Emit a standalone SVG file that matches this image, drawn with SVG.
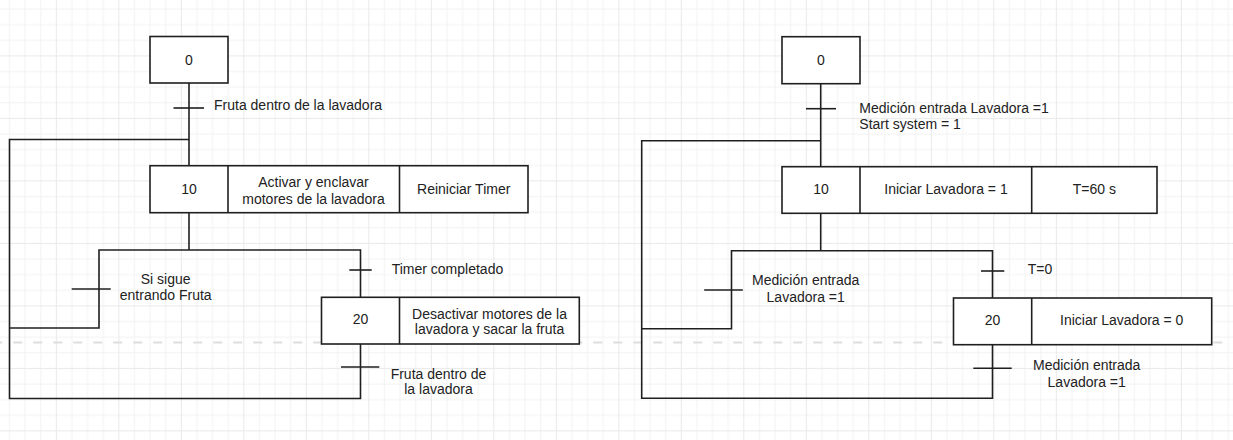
<svg xmlns="http://www.w3.org/2000/svg" width="1233" height="440" viewBox="0 0 1233 440">
  <defs>
    <pattern id="grid" patternUnits="userSpaceOnUse" x="-6.7" y="-7.1" width="62.5" height="62.5">
      <rect x="0" y="0" width="62.5" height="62.5" fill="#ffffff"/>
      <rect x="15.625" y="0" width="1" height="62.5" fill="#f3f3f3"/>
      <rect x="31.25" y="0" width="1" height="62.5" fill="#f3f3f3"/>
      <rect x="46.875" y="0" width="1" height="62.5" fill="#f3f3f3"/>
      <rect x="0" y="15.625" width="62.5" height="1" fill="#f3f3f3"/>
      <rect x="0" y="31.25" width="62.5" height="1" fill="#f3f3f3"/>
      <rect x="0" y="46.875" width="62.5" height="1" fill="#f3f3f3"/>
      <rect x="0" y="0" width="1" height="62.5" fill="#e9e9e9"/>
      <rect x="0" y="0" width="62.5" height="1" fill="#e9e9e9"/>
    </pattern>
    <style>
      .box { fill: #ffffff; stroke: #1f1f1f; stroke-width: 1.6; }
      .div { stroke: #1f1f1f; stroke-width: 1.6; fill: none; }
      .wire { fill: none; stroke: #1f1f1f; stroke-width: 1.6; }
      .bar { stroke: #1f1f1f; stroke-width: 1.6; }
      .t { font-family: "Liberation Sans", Arial, sans-serif; font-size: 14px; fill: #222222; }
      .c { text-anchor: middle; }
      .pb { stroke: #dedede; stroke-width: 2.2; stroke-dasharray: 9 11; stroke-dashoffset: 6.7; }
    </style>
  </defs>

  <rect x="0" y="0" width="1233" height="440" fill="url(#grid)"/>
  <line class="pb" x1="0" y1="342.5" x2="1233" y2="342.5"/>

  <g id="connectors">
    <!-- left chart -->
    <line class="wire" x1="189" y1="83" x2="189" y2="165.7"/>
    <line class="bar" x1="173.5" y1="108" x2="204" y2="108"/>
    <polyline class="wire" points="189,139.5 9.5,139.5 9.5,398.5 360.5,398.5 360.5,344"/>
    <line class="wire" x1="189" y1="212.7" x2="189" y2="250"/>
    <polyline class="wire" points="9.5,328 99,328 99,250 360.5,250 360.5,297.3"/>
    <line class="bar" x1="71.7" y1="289" x2="110.7" y2="289"/>
    <line class="bar" x1="349.3" y1="270" x2="371.7" y2="270"/>
    <line class="bar" x1="341" y1="367" x2="379.3" y2="367"/>
    <!-- right chart -->
    <line class="wire" x1="820.7" y1="83.7" x2="820.7" y2="166.7"/>
    <line class="bar" x1="806" y1="108.7" x2="836" y2="108.7"/>
    <polyline class="wire" points="820.7,140.7 641.7,140.7 641.7,398.3 992.5,398.3 992.5,344.7"/>
    <line class="wire" x1="820.7" y1="213.3" x2="820.7" y2="250.7"/>
    <polyline class="wire" points="641.7,328.7 731.5,328.7 731.5,250.7 992.5,250.7 992.5,298"/>
    <line class="bar" x1="704.2" y1="290" x2="742.8" y2="290"/>
    <line class="bar" x1="981" y1="271" x2="1004.3" y2="271"/>
    <line class="bar" x1="973.3" y1="368.3" x2="1011.7" y2="368.3"/>
  </g>

  <g id="transition-labels">
    <text class="t" x="214" y="109.5">Fruta dentro de la lavadora</text>
    <text class="t c" x="165.7" y="283.5">Si sigue</text>
    <text class="t c" x="165.7" y="300">entrando Fruta</text>
    <text class="t" x="391.7" y="274">Timer completado</text>
    <text class="t c" x="438.5" y="379.3">Fruta dentro de</text>
    <text class="t c" x="438.5" y="394">la lavadora</text>

    <text class="t" x="859.3" y="112.5">Medición entrada Lavadora =1</text>
    <text class="t" x="859.3" y="129">Start system = 1</text>
    <text class="t c" x="805.7" y="285">Medición entrada</text>
    <text class="t c" x="805.7" y="302">Lavadora =1</text>
    <text class="t" x="1027.7" y="274">T=0</text>
    <text class="t c" x="1086.7" y="369.5">Medición entrada</text>
    <text class="t c" x="1086.7" y="386.5">Lavadora =1</text>
  </g>

  <g id="L-step0">
    <rect class="box" x="150" y="36.5" width="78" height="46.5"/>
    <text class="t c" x="189" y="64.5">0</text>
  </g>

  <g id="L-step10">
    <rect class="box" x="150" y="165.7" width="378" height="47"/>
    <line class="div" x1="228" y1="165.7" x2="228" y2="212.7"/>
    <line class="div" x1="399.5" y1="165.7" x2="399.5" y2="212.7"/>
    <text class="t c" x="189" y="193.5">10</text>
    <text class="t c" x="313.5" y="187">Activar y enclavar</text>
    <text class="t c" x="313.5" y="203.5">motores de la lavadora</text>
    <text class="t c" x="463.7" y="193.5">Reiniciar Timer</text>
  </g>

  <g id="L-step20">
    <rect class="box" x="321.5" y="297.3" width="257.8" height="46.7"/>
    <line class="div" x1="399.5" y1="297.3" x2="399.5" y2="344"/>
    <text class="t c" x="360.5" y="323.5">20</text>
    <text class="t c" x="489.5" y="318.5">Desactivar motores de la</text>
    <text class="t c" x="489.5" y="334">lavadora y sacar la fruta</text>
  </g>

  <g id="R-step0">
    <rect class="box" x="782" y="36.7" width="78" height="47"/>
    <text class="t c" x="821" y="65">0</text>
  </g>

  <g id="R-step10">
    <rect class="box" x="782" y="166.7" width="375" height="46.6"/>
    <line class="div" x1="860" y1="166.7" x2="860" y2="213.3"/>
    <line class="div" x1="1031.7" y1="166.7" x2="1031.7" y2="213.3"/>
    <text class="t c" x="821" y="194">10</text>
    <text class="t c" x="946" y="194">Iniciar Lavadora = 1</text>
    <text class="t c" x="1094.4" y="194">T=60 s</text>
  </g>

  <g id="R-step20">
    <rect class="box" x="953.5" y="298" width="258.2" height="46.7"/>
    <line class="div" x1="1031.7" y1="298" x2="1031.7" y2="344.7"/>
    <text class="t c" x="992.5" y="325">20</text>
    <text class="t c" x="1121.7" y="325">Iniciar Lavadora = 0</text>
  </g>
</svg>
